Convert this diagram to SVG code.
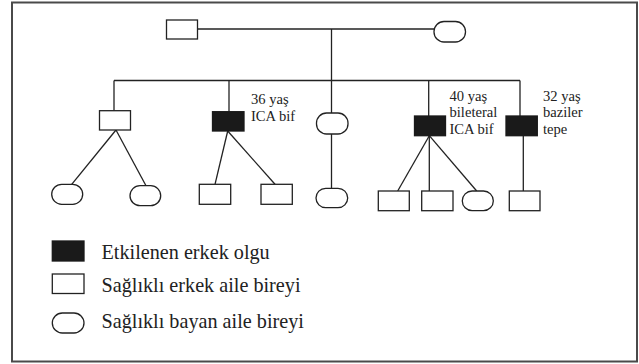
<svg xmlns="http://www.w3.org/2000/svg" width="639" height="364" viewBox="0 0 639 364">
<style>
.frame{fill:#fff;stroke:#4a4a4a;stroke-width:2}
.m{fill:#fff;stroke:#222;stroke-width:1.3}
.a{fill:#1a1a1a;stroke:#1a1a1a;stroke-width:1.3}
.f{fill:#fff;stroke:#222;stroke-width:1.3}
.c line{stroke:#222;stroke-width:1.3}
.lbl{font-family:"Liberation Serif","Times New Roman",serif;font-size:14.6px;fill:#222}
.leg{font-family:"Liberation Serif","Times New Roman",serif;font-size:20.2px;fill:#222}
</style>
<rect class="frame" x="12" y="2.5" width="625" height="359"/>
<g id="connectors" class="c">
<line x1="198" y1="29" x2="434" y2="29"/>
<line x1="331.5" y1="29" x2="331.5" y2="80.5"/>
<line x1="114" y1="80.5" x2="520" y2="80.5"/>
<line x1="114" y1="80.5" x2="114" y2="110.7"/>
<line x1="229" y1="80.5" x2="229" y2="111.7"/>
<line x1="331.5" y1="80.5" x2="331.5" y2="113"/>
<line x1="428.7" y1="80.5" x2="428.7" y2="116"/>
<line x1="520" y1="80.5" x2="520" y2="116"/>
<line x1="116" y1="130" x2="71.7" y2="184.3"/>
<line x1="116" y1="130" x2="146" y2="185.7"/>
<line x1="227.7" y1="131" x2="215" y2="184.3"/>
<line x1="227.7" y1="131" x2="275" y2="184.3"/>
<line x1="331.5" y1="134" x2="331.5" y2="188.3"/>
<line x1="429.3" y1="135.7" x2="397.7" y2="191"/>
<line x1="429.3" y1="135.7" x2="429.3" y2="191"/>
<line x1="429.3" y1="135.7" x2="476.7" y2="191"/>
<line x1="523.3" y1="135.7" x2="523.3" y2="191"/>
</g>
<g id="father"><rect class="m" x="166.5" y="20" width="31" height="19"/></g>
<g id="mother"><rect class="f" x="434" y="21.5" width="31.5" height="20.5" rx="10" ry="10"/></g>
<g id="child1"><rect class="m" x="99.5" y="110.7" width="31" height="19.3"/></g>
<g id="child2"><rect class="a" x="212.5" y="111.7" width="31.5" height="19.3"/>
<text class="lbl" x="251" y="104.3">36 yaş</text><text class="lbl" x="251" y="120.7">ICA bif</text></g>
<g id="child3"><rect class="f" x="316.5" y="113" width="31.5" height="21" rx="10" ry="10"/></g>
<g id="child4"><rect class="a" x="414.5" y="116" width="31" height="19.7"/>
<text class="lbl" x="449.5" y="100.7">40 yaş</text><text class="lbl" x="449.5" y="117.3">bileteral</text><text class="lbl" x="449.5" y="133.5">ICA bif</text></g>
<g id="child5"><rect class="a" x="506" y="116" width="31.3" height="19.7"/>
<text class="lbl" x="543" y="100.7">32 yaş</text><text class="lbl" x="543" y="117.3">baziler</text><text class="lbl" x="543" y="133.5">tepe</text></g>
<g id="gc1"><rect class="f" x="51.7" y="184.3" width="31" height="20" rx="10" ry="10"/></g>
<g id="gc2"><rect class="f" x="130" y="185.7" width="30.7" height="20" rx="10" ry="10"/></g>
<g id="gc3"><rect class="m" x="199.3" y="184.3" width="31.4" height="20"/></g>
<g id="gc4"><rect class="m" x="261" y="184.3" width="31.3" height="20"/></g>
<g id="gc5"><rect class="f" x="316" y="188.3" width="31.7" height="19.4" rx="9.7" ry="9.7"/></g>
<g id="gc6"><rect class="m" x="378.3" y="191" width="31" height="19.7"/></g>
<g id="gc7"><rect class="m" x="421.7" y="191" width="31.3" height="19.7"/></g>
<g id="gc8"><rect class="f" x="462.3" y="191" width="31" height="19.7" rx="9.8" ry="9.8"/></g>
<g id="gc9"><rect class="m" x="509.3" y="191" width="30.7" height="19.7"/></g>
<g id="legend">
<rect class="a" x="52.3" y="241" width="31.7" height="20"/>
<text class="leg" x="101.5" y="259">Etkilenen erkek olgu</text>
<rect class="m" x="52.3" y="274" width="31.7" height="19.5"/>
<text class="leg" x="101.5" y="292">Sağlıklı erkek aile bireyi</text>
<rect class="f" x="52.3" y="313" width="31.7" height="20" rx="10" ry="10"/>
<text class="leg" x="101.5" y="328">Sağlıklı bayan aile bireyi</text>
</g>
</svg>
